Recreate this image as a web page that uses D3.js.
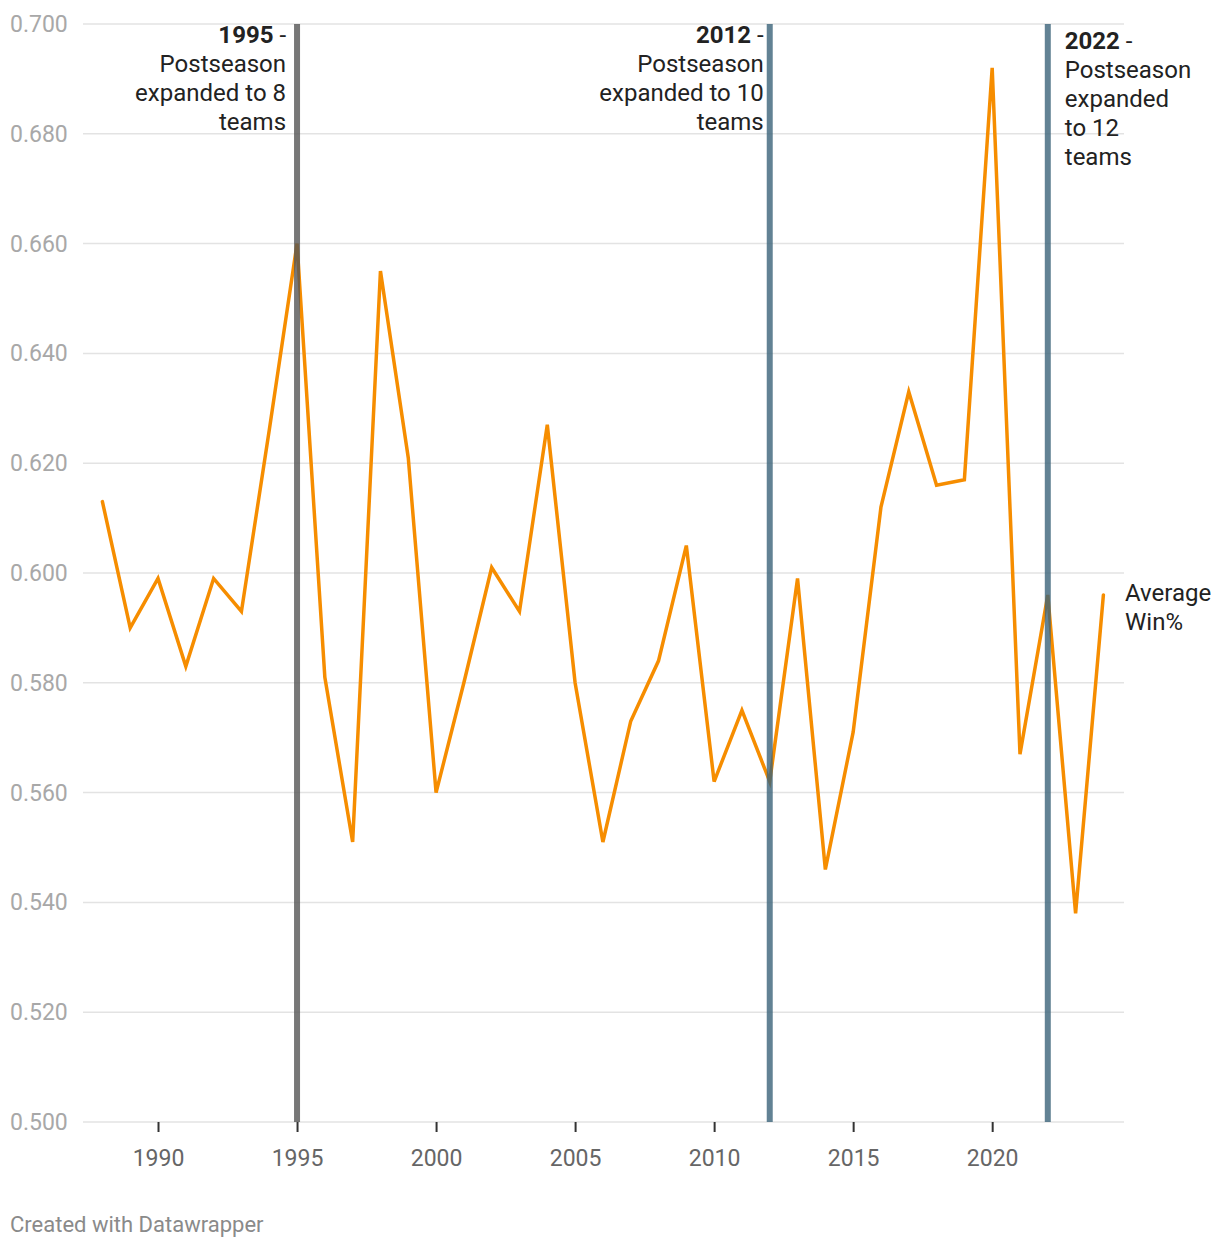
<!DOCTYPE html>
<html>
<head>
<meta charset="utf-8">
<script src="https://cdn.jsdelivr.net/npm/d3@7"></script>
<style>
  html, body { margin: 0; padding: 0; background: #fff; }
  svg { display: block; font-family: Roboto, "Noto Sans", sans-serif; }
</style>
</head>
<body>
<svg id="chart" width="1220" height="1248"></svg>
<script>
const years = [1988,1989,1990,1991,1992,1993,1994,1995,1996,1997,1998,1999,2000,2001,2002,2003,2004,2005,2006,2007,2008,2009,2010,2011,2012,2013,2014,2015,2016,2017,2018,2019,2020,2021,2022,2023,2024];
const winPct = [0.613,0.590,0.599,0.583,0.599,0.593,0.626,0.660,0.581,0.551,0.655,0.621,0.560,0.580,0.601,0.593,0.627,0.580,0.551,0.573,0.584,0.605,0.562,0.575,0.562,0.599,0.546,0.571,0.612,0.633,0.616,0.617,0.692,0.567,0.596,0.538,0.596];
const yTicks = [0.5,0.52,0.54,0.56,0.58,0.6,0.62,0.64,0.66,0.68,0.7];
const xTicks = [1990,1995,2000,2005,2010,2015,2020];
const markerYears = [1995, 2012, 2022];
const markerBold = ["1995", "2012", "2022"];
const markerText = [
  ["Postseason", "expanded to 8", "teams"],
  ["Postseason", "expanded to 10", "teams"],
  ["Postseason", "expanded", "to 12", "teams"]
];
const seriesLabel = ["Average", "Win%"];
const footer = "Created with Datawrapper";

const svg = d3.select("#chart");
const x = d3.scaleLinear().domain([1988, 2024]).range([102.4, 1103.4]);
const y = d3.scaleLinear().domain([0.5, 0.7]).range([1122, 24]);
const gridX0 = 83, gridX1 = 1124;

// gridlines
svg.append("g").selectAll("line").data(yTicks).join("line")
  .attr("x1", gridX0).attr("x2", gridX1)
  .attr("y1", d => y(d)).attr("y2", d => y(d))
  .attr("stroke", "#e3e3e3").attr("stroke-width", 1.5);

// y labels
svg.append("g").selectAll("text").data(yTicks).join("text")
  .attr("x", 10).attr("y", d => y(d) + 8)
  .attr("font-size", 23).attr("fill", "#a8a8a8")
  .text(d => d3.format(".3f")(d));

// x axis ticks
const xAxis = d3.axisBottom(x).tickValues(xTicks).tickSize(10).tickPadding(18).tickFormat(d3.format("d"));
const gx = svg.append("g").attr("transform", `translate(0,${y(0.5)})`).call(xAxis);
gx.select(".domain").remove();
gx.selectAll(".tick line").attr("stroke", "#333").attr("stroke-width", 2);
gx.selectAll(".tick text").attr("font-size", 23).attr("fill", "#666").attr("font-family", "Roboto, sans-serif");

// series line
const line = d3.line().x((d, i) => x(years[i])).y(d => y(d));
svg.append("path").datum(winPct)
  .attr("d", line)
  .attr("fill", "none").attr("stroke", "#f68d00").attr("stroke-width", 3.5)
  .attr("stroke-linejoin", "miter").attr("stroke-linecap", "round");

// vertical marker bars
const barColors = ["#555555", "#3b6379", "#3b6379"];
svg.append("g").selectAll("rect").data(markerYears).join("rect")
  .attr("x", d => x(d) - 3).attr("y", y(0.7)).attr("width", 6).attr("height", y(0.5) - y(0.7))
  .attr("fill", (d, i) => barColors[i]).attr("opacity", 0.8);

// annotations
const annOffset = [-11, -6, 17];
const ann = svg.append("g").attr("font-size", 24).attr("fill", "#222");
markerYears.forEach((yr, i) => {
  const right = i < 2;
  const ax = x(yr) + annOffset[i];
  const y0 = right ? 43 : 49;
  const t = ann.append("text").attr("text-anchor", right ? "end" : "start");
  const first = t.append("tspan").attr("x", ax).attr("y", y0);
  first.append("tspan").attr("font-weight", 700).text(markerBold[i]);
  first.append("tspan").text(" -");
  markerText[i].forEach((s, j) => {
    t.append("tspan").attr("x", ax).attr("y", y0 + 29 * (j + 1)).text(s);
  });
});

// series label
svg.append("g").selectAll("text").data(seriesLabel).join("text")
  .attr("x", 1125).attr("y", (d, i) => 601 + 29 * i)
  .attr("font-size", 24).attr("fill", "#222").text(d => d);

// footer
svg.append("text").attr("x", 10).attr("y", 1232)
  .attr("font-size", 22).attr("fill", "#8a8a8a").text(footer);
</script>
</body>
</html>
